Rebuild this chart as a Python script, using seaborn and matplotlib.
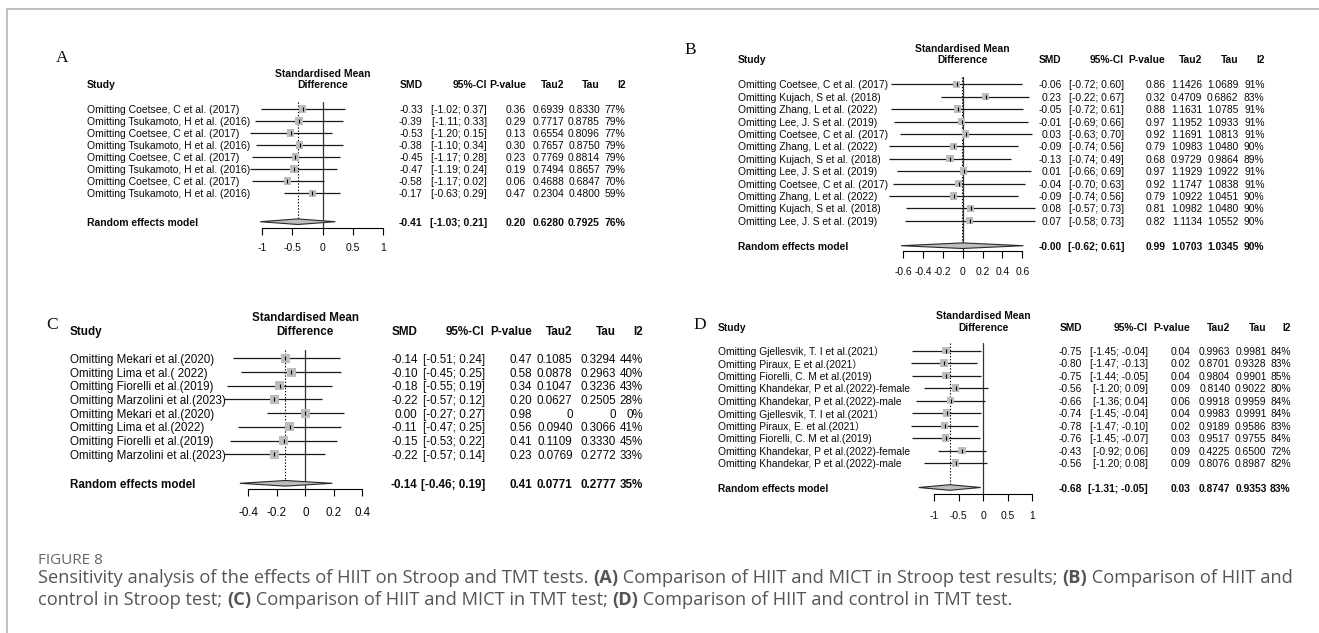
import numpy as np
import pandas as pd
import matplotlib
matplotlib.use("Agg")
import matplotlib.pyplot as plt
import matplotlib.transforms as mtransforms
from matplotlib.patches import Polygon
from matplotlib.lines import Line2D
import seaborn as sns

# ---------------- data ----------------
studies_A = ["Omitting Coetsee, C et al. (2017)", "Omitting Tsukamoto, H et al. (2016)"] * 4
smd_A = [-0.33, -0.39, -0.53, -0.38, -0.45, -0.47, -0.58, -0.17]
lo_A = [-1.02, -1.11, -1.20, -1.10, -1.17, -1.19, -1.17, -0.63]
hi_A = [0.37, 0.33, 0.15, 0.34, 0.28, 0.24, 0.02, 0.29]
p_A = [0.36, 0.29, 0.13, 0.30, 0.23, 0.19, 0.06, 0.47]
tau2_A = [0.6939, 0.7717, 0.6554, 0.7657, 0.7769, 0.7494, 0.4688, 0.2304]
tau_A = [0.8330, 0.8785, 0.8096, 0.8750, 0.8814, 0.8657, 0.6847, 0.4800]
i2_A = [77, 79, 77, 79, 79, 79, 70, 59]
re_A = dict(smd=-0.41, lo=-1.03, hi=0.21, p=0.20, tau2=0.6280, tau=0.7925, i2=76)

studies_B = ["Omitting Coetsee, C et al. (2017)", "Omitting Kujach, S et al. (2018)",
             "Omitting Zhang, L et al. (2022)", "Omitting Lee, J. S et al. (2019)",
             "Omitting Coetsee, C et al. (2017)", "Omitting Zhang, L et al. (2022)",
             "Omitting Kujach, S et al. (2018)", "Omitting Lee, J. S et al. (2019)",
             "Omitting Coetsee, C et al. (2017)", "Omitting Zhang, L et al. (2022)",
             "Omitting Kujach, S et al. (2018)", "Omitting Lee, J. S et al. (2019)"]
smd_B = [-0.06, 0.23, -0.05, -0.01, 0.03, -0.09, -0.13, 0.01, -0.04, -0.09, 0.08, 0.07]
lo_B = [-0.72, -0.22, -0.72, -0.69, -0.63, -0.74, -0.74, -0.66, -0.70, -0.74, -0.57, -0.58]
hi_B = [0.60, 0.67, 0.61, 0.66, 0.70, 0.56, 0.49, 0.69, 0.63, 0.56, 0.73, 0.73]
p_B = [0.86, 0.32, 0.88, 0.97, 0.92, 0.79, 0.68, 0.97, 0.92, 0.79, 0.81, 0.82]
tau2_B = [1.1426, 0.4709, 1.1631, 1.1952, 1.1691, 1.0983, 0.9729, 1.1929, 1.1747, 1.0922, 1.0982, 1.1134]
tau_B = [1.0689, 0.6862, 1.0785, 1.0933, 1.0813, 1.0480, 0.9864, 1.0922, 1.0838, 1.0451, 1.0480, 1.0552]
i2_B = [91, 83, 91, 91, 91, 90, 89, 91, 91, 90, 90, 90]
re_B = dict(smd=-0.004, lo=-0.62, hi=0.61, p=0.99, tau2=1.0703, tau=1.0345, i2=90)

studies_C = ["Omitting Mekari et al.(2020)", "Omitting Lima et al.( 2022)",
             "Omitting Fiorelli et al.(2019)", "Omitting Marzolini et al.(2023)",
             "Omitting Mekari et al.(2020)", "Omitting Lima et al.(2022)",
             "Omitting Fiorelli et al.(2019)", "Omitting Marzolini et al.(2023)"]
smd_C = [-0.14, -0.10, -0.18, -0.22, 0.00, -0.11, -0.15, -0.22]
lo_C = [-0.51, -0.45, -0.55, -0.57, -0.27, -0.47, -0.53, -0.57]
hi_C = [0.24, 0.25, 0.19, 0.12, 0.27, 0.25, 0.22, 0.14]
p_C = [0.47, 0.58, 0.34, 0.20, 0.98, 0.56, 0.41, 0.23]
tau2_C = [0.1085, 0.0878, 0.1047, 0.0627, 0, 0.0940, 0.1109, 0.0769]
tau_C = [0.3294, 0.2963, 0.3236, 0.2505, 0, 0.3066, 0.3330, 0.2772]
i2_C = [44, 40, 43, 28, 0, 41, 45, 33]
re_C = dict(smd=-0.14, lo=-0.46, hi=0.19, p=0.41, tau2=0.0771, tau=0.2777, i2=35)

studies_D = ["Omitting Gjellesvik, T. I et al.(2021）", "Omitting Piraux, E et al.(2021）",
             "Omitting Fiorelli, C. M et al.(2019)", "Omitting Khandekar, P et al.(2022)-female",
             "Omitting Khandekar, P et al.(2022)-male", "Omitting Gjellesvik, T. I et al.(2021）",
             "Omitting Piraux, E. et al.(2021）", "Omitting Fiorelli, C. M et al.(2019)",
             "Omitting Khandekar, P et al.(2022)-female", "Omitting Khandekar, P et al.(2022)-male"]
smd_D = [-0.75, -0.80, -0.75, -0.56, -0.66, -0.74, -0.78, -0.76, -0.43, -0.56]
lo_D = [-1.45, -1.47, -1.44, -1.20, -1.36, -1.45, -1.47, -1.45, -0.92, -1.20]
hi_D = [-0.04, -0.13, -0.05, 0.09, 0.04, -0.04, -0.10, -0.07, 0.06, 0.08]
p_D = [0.04, 0.02, 0.04, 0.09, 0.06, 0.04, 0.02, 0.03, 0.09, 0.09]
tau2_D = [0.9963, 0.8701, 0.9804, 0.8140, 0.9918, 0.9983, 0.9189, 0.9517, 0.4225, 0.8076]
tau_D = [0.9981, 0.9328, 0.9901, 0.9022, 0.9959, 0.9991, 0.9586, 0.9755, 0.6500, 0.8987]
i2_D = [84, 83, 85, 80, 84, 84, 83, 84, 72, 82]
re_D = dict(smd=-0.68, lo=-1.31, hi=-0.05, p=0.03, tau2=0.8747, tau=0.9353, i2=83)

ticks_A = [-1, -0.5, 0, 0.5, 1]
ticklabels_A = ["-1", "-0.5", "0", "0.5", "1"]
ticks_B = [-0.6, -0.4, -0.2, 0, 0.2, 0.4, 0.6]
ticklabels_B = ["-0.6", "-0.4", "-0.2", "0", "0.2", "0.4", "0.6"]
ticks_C = [-0.4, -0.2, 0, 0.2, 0.4]
ticklabels_C = ["-0.4", "-0.2", "0", "0.2", "0.4"]
ticks_D = [-1, -0.5, 0, 0.5, 1]
ticklabels_D = ["-1", "-0.5", "0", "0.5", "1"]

col_headers = ["SMD", "95%-CI", "P-value", "Tau2", "Tau", "I2"]

caption_title = "FIGURE 8"
caption_line1 = [("Sensitivity analysis of the effects of HIIT on Stroop and TMT tests. ", "normal"),
                 ("(A)", "bold"),
                 (" Comparison of HIIT and MICT in Stroop test results; ", "normal"),
                 ("(B)", "bold"),
                 (" Comparison of HIIT and", "normal")]
caption_line2 = [("control in Stroop test; ", "normal"), ("(C)", "bold"),
                 (" Comparison of HIIT and MICT in TMT test; ", "normal"), ("(D)", "bold"),
                 (" Comparison of HIIT and control in TMT test.", "normal")]

# ---------------- style ----------------
sns.set_theme(style="white")
plt.rcParams['font.family'] = ['Liberation Sans', 'Noto Sans CJK SC', 'DejaVu Sans']
plt.rcParams['axes.unicode_minus'] = False

W, H = 1319, 633
fig = plt.figure(figsize=(W / 100, H / 100), dpi=100)
fig.patch.set_facecolor("white")
renderer = fig.canvas.get_renderer()


def fx(px):
    return px / W


def fy(py):
    return 1 - py / H


# frame lines
fig.add_artist(Line2D([fx(6.5), 1.0], [fy(9), fy(9)], color="#b5b5b5", lw=1.2))
fig.add_artist(Line2D([fx(6.5), fx(6.5)], [fy(9), 0.0], color="#b5b5b5", lw=1.2))

panels = [
    dict(letter="A", studies=studies_A, smd=smd_A, lo=lo_A, hi=hi_A, p=p_A, tau2=tau2_A, tau=tau_A, i2=i2_A,
         re=re_A, ticks=ticks_A, ticklabels=ticklabels_A,
         L=dict(letter_xy=(61.8, 58.3), fs=7.5, px_lo=262, px_hi=383.3, row0=109, step=12.04, re_y=221.7,
                vtop=101.7, axis_y=228.3, pad=5.9, head1=73.3, head2=84.3, study_x=87.1,
                cols=[422.7, 487, 526, 564.3, 600, 625.5], sq=7.5)),
    dict(letter="B", studies=studies_B, smd=smd_B, lo=lo_B, hi=hi_B, p=p_B, tau2=tau2_B, tau=tau_B, i2=i2_B,
         re=re_B, ticks=ticks_B, ticklabels=ticklabels_B,
         L=dict(letter_xy=(690, 50), fs=7.35, px_lo=903, px_hi=1022.4, row0=84.3, step=12.4, re_y=245.7,
                vtop=76.7, axis_y=251, pad=6.8, head1=47.7, head2=59.3, study_x=737.5,
                cols=[1061.7, 1124, 1165.4, 1202.3, 1238.5, 1264.6], sq=7.5)),
    dict(letter="C", studies=studies_C, smd=smd_C, lo=lo_C, hi=hi_C, p=p_C, tau2=tau2_C, tau=tau_C, i2=i2_C,
         re=re_C, ticks=ticks_C, ticklabels=ticklabels_C,
         L=dict(letter_xy=(51.9, 325), fs=8.4, px_lo=248.4, px_hi=362.3, row0=358.3, step=13.71, re_y=483.3,
                vtop=350, axis_y=489.3, pad=8, head1=316.7, head2=330.7, study_x=69.7,
                cols=[417.6, 484.8, 532.3, 572.6, 616.1, 643], sq=9)),
    dict(letter="D", studies=studies_D, smd=smd_D, lo=lo_D, hi=hi_D, p=p_D, tau2=tau2_D, tau=tau_D, i2=i2_D,
         re=re_D, ticks=ticks_D, ticklabels=ticklabels_D,
         L=dict(letter_xy=(700, 325), fs=7.35, px_lo=933.9, px_hi=1032.4, row0=350.7, step=12.5, re_y=487.5,
                vtop=343.3, axis_y=494, pad=7.1, head1=315, head2=326.7, study_x=718.2,
                cols=[1081.8, 1148, 1190.2, 1230.4, 1266.6, 1290.7], sq=7.5)),
]


def fmt4(v):
    return "0" if v == 0 else f"{v:.4f}"


def row_values(smd, lo, hi, p, tau2, tau, i2):
    return [f"{smd:.2f}", f"[{lo:.2f}; {hi:.2f}]", f"{p:.2f}", fmt4(tau2), fmt4(tau), f"{i2}%"]


SQ_COLOR = "#bdbdbd"
TXT = "#0a0a0a"

for P in panels:
    L = P["L"]
    n = len(P["studies"])
    fs = L["fs"]
    ax = fig.add_axes([fx(L["px_lo"]), fy(L["axis_y"]), (L["px_hi"] - L["px_lo"]) / W,
                       (L["axis_y"] - L["vtop"]) / H])
    ax.patch.set_alpha(0)
    y_top = (L["vtop"] - L["row0"]) / L["step"]
    y_bot = (L["axis_y"] - L["row0"]) / L["step"]
    re_row = (L["re_y"] - L["row0"]) / L["step"]

    df = pd.DataFrame({"study": P["studies"], "smd": P["smd"], "lo": P["lo"], "hi": P["hi"],
                       "row": np.arange(n)})

    # CI lines
    ax.hlines(df["row"], df["lo"], df["hi"], color="#1a1a1a", lw=0.9, zorder=2, clip_on=False)
    # squares
    sns.scatterplot(data=df, x="smd", y="row", marker="s", s=(L["sq"] * 0.72) ** 2, color=SQ_COLOR,
                    edgecolor="none", linewidth=0, ax=ax, legend=False, zorder=3, clip_on=False)
    # point marks
    ax.scatter(df["smd"], df["row"], marker="|", s=(3.5 * 0.72) ** 2, color="black", linewidths=0.8,
               zorder=4, clip_on=False)

    # zero line and random-effects dotted line
    ax.axvline(0, color="#333333", lw=0.9, zorder=1)
    re = P["re"]
    ax.vlines(re["smd"], y_top, re_row, colors="black", linestyles=(0, (1.2, 1.6)), lw=0.8, zorder=1)

    # diamond
    hh = 2.8 / L["step"]
    diamond = Polygon([(re["lo"], re_row), (re["smd"], re_row - hh), (re["hi"], re_row),
                       (re["smd"], re_row + hh)], closed=True, facecolor=SQ_COLOR, edgecolor="#2a2a2a",
                      lw=0.8, zorder=3, clip_on=False)
    ax.add_patch(diamond)

    ax.set_xlim(P["ticks"][0], P["ticks"][-1])
    ax.set_ylim(y_bot, y_top)
    ax.set_xticks(P["ticks"])
    ax.set_xticklabels(P["ticklabels"])
    ax.set_yticks([])
    ax.set_xlabel("")
    ax.set_ylabel("")
    for s in ["top", "left", "right"]:
        ax.spines[s].set_visible(False)
    ax.spines["bottom"].set_color("black")
    ax.spines["bottom"].set_linewidth(0.8)
    ax.tick_params(axis="x", bottom=True, length=5, width=0.8, color="black", direction="out",
                   pad=L["pad"], labelsize=fs, labelcolor=TXT)

    trans = mtransforms.blended_transform_factory(fig.transFigure, ax.transData)

    # study labels and values
    for i in range(n):
        ax.text(fx(L["study_x"]), i, P["studies"][i], transform=trans, ha="left", va="center_baseline",
                fontsize=fs, color=TXT, clip_on=False)
        vals = row_values(P["smd"][i], P["lo"][i], P["hi"][i], P["p"][i], P["tau2"][i], P["tau"][i],
                          P["i2"][i])
        for cx, v in zip(L["cols"], vals):
            ax.text(fx(cx), i, v, transform=trans, ha="right", va="center_baseline", fontsize=fs,
                    color=TXT, clip_on=False)

    # random effects row
    ax.text(fx(L["study_x"]), re_row, "Random effects model", transform=trans, ha="left",
            va="center_baseline", fontsize=fs, fontweight="bold", color=TXT, clip_on=False)
    vals = row_values(re["smd"], re["lo"], re["hi"], re["p"], re["tau2"], re["tau"], re["i2"])
    for cx, v in zip(L["cols"], vals):
        ax.text(fx(cx), re_row, v, transform=trans, ha="right", va="center_baseline", fontsize=fs,
                fontweight="bold", color=TXT, clip_on=False)

    # headers
    cx_plot = (L["px_lo"] + L["px_hi"]) / 2
    fig.text(fx(cx_plot), fy(L["head1"]), "Standardised Mean", ha="center", va="center_baseline",
             fontsize=fs, fontweight="bold", color=TXT)
    fig.text(fx(cx_plot), fy(L["head2"]), "Difference", ha="center", va="center_baseline",
             fontsize=fs, fontweight="bold", color=TXT)
    fig.text(fx(L["study_x"]), fy(L["head2"]), "Study", ha="left", va="center_baseline",
             fontsize=fs, fontweight="bold", color=TXT)
    for cx, h in zip(L["cols"], col_headers):
        fig.text(fx(cx), fy(L["head2"]), h, ha="right", va="center_baseline", fontsize=fs,
                 fontweight="bold", color=TXT)

    # panel letter
    lx, ly = L["letter_xy"]
    fig.text(fx(lx), fy(ly), P["letter"], ha="center", va="center", fontsize=12.5,
             family=["Liberation Serif", "DejaVu Serif"], color=TXT)

# ---------------- caption ----------------
CAP_FONT = ["Open Sans", "DejaVu Sans"]


def seg_width(txt, wt, fs):
    t1 = fig.text(0, 0, "|" + txt + "|", fontsize=fs, fontweight=wt, family=CAP_FONT)
    t2 = fig.text(0, 0, "||", fontsize=fs, fontweight=wt, family=CAP_FONT)
    w = t1.get_window_extent(renderer).width - t2.get_window_extent(renderer).width
    t1.remove()
    t2.remove()
    return w


base = 10.0
w1 = sum(seg_width(t, w, base) for t, w in caption_line1)
cap_fs = base * 1255.0 / w1


def draw_segments(segs, x0, y0, fs, color):
    x = x0
    for txt, wt in segs:
        fig.text(fx(x), fy(y0), txt, fontsize=fs, fontweight=wt, family=CAP_FONT, color=color,
                 ha="left", va="center_baseline")
        x += seg_width(txt, wt, fs)


tw = seg_width(caption_title, "normal", base)
title_fs = base * 65.0 / tw
fig.text(fx(38), fy(558), caption_title, fontsize=title_fs, family=CAP_FONT, color="#666666",
         ha="left", va="center_baseline")
draw_segments(caption_line1, 38, 576, cap_fs, "#555555")
draw_segments(caption_line2, 38, 598, cap_fs, "#555555")

fig.savefig("out.png", dpi=100, facecolor="white")
